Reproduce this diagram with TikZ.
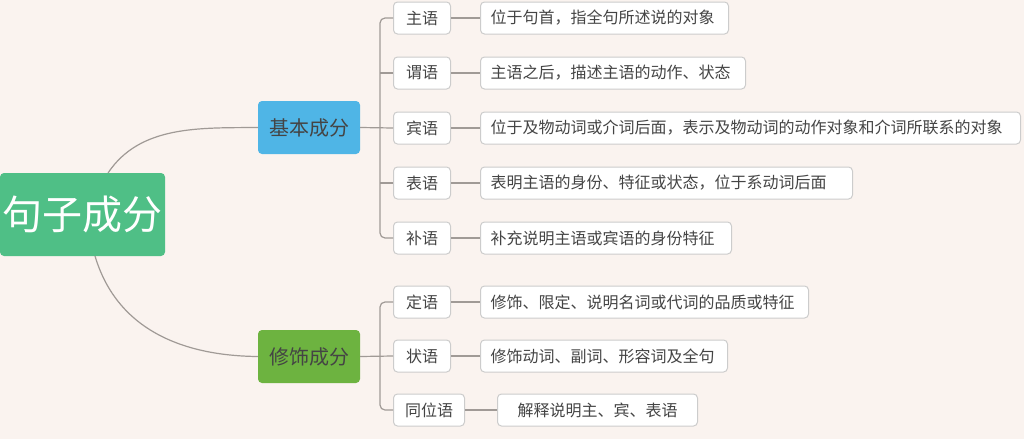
\documentclass[tikz,border=0pt]{standalone}
\usepackage{fontspec}
\newfontfamily\cjk{Noto Sans CJK SC}
\definecolor{bg}{HTML}{FAF3EF}
\definecolor{rootc}{HTML}{4FBF86}
\definecolor{bluec}{HTML}{4FB5E6}
\definecolor{greenc}{HTML}{6DB340}
\definecolor{linec}{HTML}{A09A96}
\definecolor{txt}{HTML}{444444}
\begin{document}
\begin{tikzpicture}[x=1pt,y=-1pt,
  leaf/.style={draw=black!20,fill=white,rounded corners=4pt,inner sep=0pt,minimum height=32pt,font=\cjk\fontsize{16}{16}\selectfont,text=txt,anchor=west,line width=1pt},
  desc/.style={leaf,inner xsep=10pt,align=left},
  conn/.style={draw=linec,line width=1.2pt},
  mid/.style={rounded corners=4pt,inner sep=0pt,minimum width=102pt,minimum height=53pt,font=\cjk\fontsize{20}{20}\selectfont,text=txt}]
\fill[bg] (0,0) rectangle (1024,439);
\useasboundingbox (0,0) rectangle (1024,439);
\node[fill=rootc,rounded corners=4pt,minimum width=165pt,minimum height=83pt,inner sep=0pt,font=\cjk\fontsize{40}{40}\selectfont,text=white] (root) at (82.5,214.5) {句子成分};
\node[mid,fill=bluec] (b) at (309,127.5) {基本成分};
\node[mid,fill=greenc] (m) at (309,356.5) {修饰成分};
\draw[conn] (108,173) .. controls (140,125) and (200,128) .. (b.west);
\draw[conn] (95,256) .. controls (120,340) and (200,356) .. (m.west);
\foreach \n/\y/\a/\d/\dw in {1/18/主语/位于句首，指全句所述说的对象/248, 2/73/谓语/主语之后，描述主语的动作、状态/265, 3/128/宾语/位于及物动词或介词后面，表示及物动词的动作对象和介词所联系的对象/540, 4/183/表语/表明主语的身份、特征或状态，位于系动词后面/372, 5/238/补语/补充说明主语或宾语的身份特征/251, 6/302/定语/修饰、限定、说明名词或代词的品质或特征/328, 7/356/状语/修饰动词、副词、形容词及全句/247}{
  \node[leaf,minimum width=57pt] (l\n) at (393,\y) {\a};
  \node[desc,text width=\dw pt-20pt] (d\n) at (480,\y) {\d};
  \draw[conn] (l\n.east) -- (d\n.west);
}
\node[leaf,minimum width=71pt] (l8) at (393,410) {同位语};
\node[leaf,minimum width=200pt] (d8) at (497,410) {解释说明主、宾、表语};
\draw[conn] (l8.east) -- (d8.west);
\draw[conn,rounded corners=5pt] (l1.west) -- (380,18) -- (380,238) -- (l5.west);
\draw[conn] (b.east) -- (l3.west);
\draw[conn] (380,73) -- (l2.west) (380,183) -- (l4.west);
\draw[conn,rounded corners=5pt] (l6.west) -- (380,302) -- (380,410) -- (l8.west);
\draw[conn] (m.east) -- (l7.west);
\end{tikzpicture}
\end{document}
